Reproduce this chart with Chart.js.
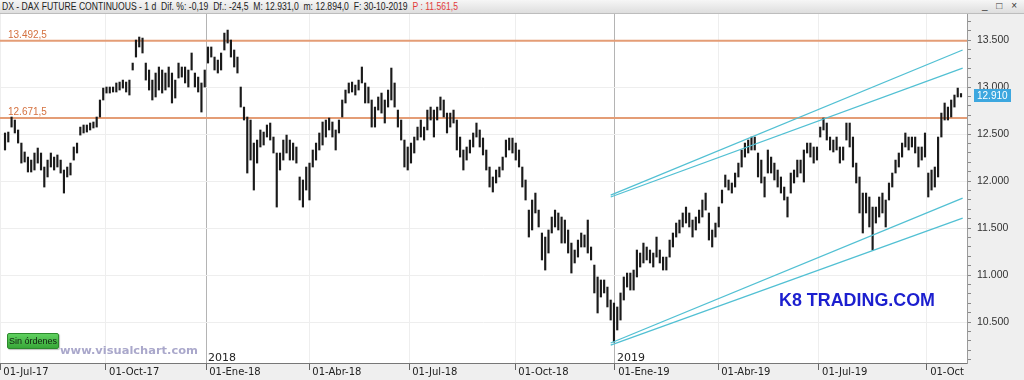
<!DOCTYPE html>
<html>
<head>
<meta charset="utf-8">
<script src="https://cdn.jsdelivr.net/npm/chart.js@4.4.0/dist/chart.umd.min.js"></script>
<style>
  html, body { margin: 0; padding: 0; background: #efefef; }
  #wrap { position: relative; width: 1024px; height: 380px; overflow: hidden; font-family: "Liberation Sans", Arial, sans-serif; }
  #chart { position: absolute; left: 0; top: 0; }
  #head { position: absolute; left: 0; top: 0; width: 1024px; height: 13px; background: linear-gradient(#f6f6f6, #dedede); border-bottom: 1px solid #bdbdbd; }
  #htxt { position: absolute; left: 2px; top: 1px; font-size: 10px; line-height: 11px; white-space: pre; color: #222; display: inline-block; transform-origin: left top; }
  #win { position: absolute; right: 4px; top: 0px; font-size: 10px; line-height: 12px; color: #333; letter-spacing: 3px; }
  .fit { display: inline-block; transform-origin: left top; white-space: pre; position: absolute; }
  #btn { position: absolute; left: 7px; top: 333px; width: 50px; height: 14px; background: linear-gradient(#5fd05f, #38a838); border: 1px solid #2c8a2c; border-radius: 2px; font-size: 9px; line-height: 14px; text-align: center; color: #102010; box-shadow: 1px 1px 1px rgba(0,0,0,0.25); }
  #wm { left: 60px; top: 344px; font-family: "DejaVu Sans", Verdana, sans-serif; font-weight: bold; font-size: 11px; color: #aaa8cb; }
  #k8 { left: 779px; top: 290px; font-family: "Liberation Sans", Arial, sans-serif; font-weight: bold; font-size: 18px; color: #1c1fcf; }
</style>
</head>
<body>
<div id="wrap">
  <canvas id="chart" width="1024" height="380"></canvas>
  <div id="head"><span id="htxt">DX - DAX FUTURE CONTINUOUS - 1 d  Dif. %: -0,19  Df.: -24,5  M: 12.931,0  m: 12.894,0  F: 30-10-2019  <span style="color:#e23b3b">P : 11.561,5</span></span><span id="win">_ □ ×</span></div>
  <div id="btn">Sin órdenes</div>
  <span id="wm" class="fit">www.visualchart.com</span>
  <span id="k8" class="fit">K8 TRADING.COM</span>
</div>
<script>
// daily bars sampled about every 2 sessions, Jul-2017 .. 30-Oct-2019
const highVals = [
  12511, 12521, 12681, 12649, 12543, 12404, 12309, 12255, 12223, 12298,
  12351, 12298, 12149, 12223, 12298, 12255, 12277, 12223, 12117, 12149,
  12191, 12362, 12404, 12574, 12596, 12596, 12617, 12628, 12681, 12862,
  12989, 13000, 13000, 13000, 13043, 13053, 13074, 13053, 13074, 13255,
  13500, 13532, 13521, 13255, 13181, 13074, 13149, 13213, 13181, 13149,
  13213, 13149, 13074, 13255, 13213, 13213, 13181, 13362, 13149, 13106,
  13043, 13181, 13426, 13426, 13319, 13287, 13362, 13574, 13606, 13500,
  13394, 13319, 13000, 12787, 12681, 12649, 12404, 12436, 12543, 12521,
  12596, 12617, 12468, 12298, 12298, 12436, 12489, 12436, 12404, 12362,
  12043, 12011, 12149, 12191, 12330, 12404, 12511, 12628, 12649, 12670,
  12628, 12543, 12649, 12862, 12968, 13043, 13053, 13021, 13074, 13213,
  13043, 13000, 12862, 12787, 12894, 12936, 12862, 12968, 13202, 13043,
  12755, 12649, 12436, 12362, 12404, 12468, 12574, 12649, 12574, 12755,
  12787, 12755, 12787, 12894, 12862, 12723, 12723, 12755, 12649, 12468,
  12330, 12362, 12436, 12511, 12617, 12543, 12458, 12330, 12149, 12043,
  12117, 12149, 12255, 12436, 12457, 12457, 12404, 12330, 12149, 12011,
  11691, 11798, 11872, 11691, 11447, 11404, 11479, 11617, 11691, 11660,
  11617, 11585, 11479, 11340, 11266, 11372, 11447, 11426, 11585, 11298,
  11106, 10979, 10947, 10947, 10872, 10734, 10702, 10660, 10809, 10979,
  11021, 11021, 11053, 11266, 11234, 11340, 11298, 11266, 11234, 11404,
  11266, 11191, 11191, 11372, 11447, 11553, 11585, 11660, 11723, 11660,
  11585, 11617, 11691, 11798, 11872, 11660, 11479, 11553, 11723, 11904,
  12064, 12011, 11979, 12085, 12191, 12330, 12404, 12436, 12468, 12468,
  12298, 12223, 12043, 12330, 12255, 12191, 12117, 12043, 11936, 11830,
  12085, 12117, 12223, 12223, 12330, 12404, 12404, 12362, 12362, 12574,
  12670, 12617, 12468, 12436, 12468, 12362, 12362, 12617, 12617, 12468,
  12191, 12043, 11872, 11872, 11830, 11723, 11723, 11830, 11872, 11798,
  11979, 12085, 12223, 12298, 12404, 12511, 12468, 12468, 12468, 12362,
  12362, 12511, 12085, 12117, 12149, 12468, 12723, 12830, 12787, 12862,
  12915, 12989, 12931
];
const lowVals = [
  12330, 12415, 12574, 12511, 12404, 12191, 12202, 12096, 12096, 12117,
  12191, 12117, 11936, 12043, 12149, 12117, 12149, 12085, 11872, 12043,
  12064, 12223, 12298, 12489, 12511, 12521, 12543, 12564, 12574, 12681,
  12862, 12936, 12936, 12947, 12947, 12968, 12989, 12947, 12915, 13181,
  13319, 13426, 13362, 13074, 12968, 12862, 12894, 12968, 12936, 12968,
  13000, 12830, 12883, 13096, 13106, 13043, 13000, 13181, 13000, 12947,
  12734, 13000, 13255, 13319, 13181, 13149, 13181, 13394, 13468, 13319,
  13213, 13149, 12787, 12649, 12085, 12223, 11904, 12191, 12362, 12383,
  12468, 12436, 12298, 11723, 12117, 12223, 12298, 12223, 12223, 12191,
  11798, 11723, 11904, 11798, 12149, 12223, 12330, 12383, 12468, 12543,
  12468, 12330, 12511, 12681, 12830, 12936, 12947, 12915, 12968, 13043,
  12830, 12830, 12574, 12574, 12755, 12723, 12617, 12787, 12862, 12787,
  12574, 12436, 12149, 12117, 12191, 12298, 12436, 12468, 12436, 12543,
  12649, 12468, 12649, 12755, 12681, 12511, 12574, 12617, 12330, 12255,
  12117, 12223, 12298, 12362, 12468, 12362, 12277, 12117, 11936, 11883,
  11979, 12043, 12117, 12255, 12330, 12298, 12223, 12149, 11936, 11798,
  11404, 11479, 11660, 11511, 11160, 11053, 11234, 11447, 11511, 11479,
  11340, 11340, 11234, 11021, 11128, 11191, 11298, 11298, 11234, 11160,
  10809, 10596, 10766, 10809, 10660, 10521, 10287, 10415, 10521, 10734,
  10872, 10840, 10840, 10979, 11085, 11128, 11160, 11128, 11085, 11191,
  11128, 11053, 11053, 11191, 11298, 11404, 11447, 11511, 11553, 11511,
  11404, 11479, 11553, 11617, 11691, 11372, 11298, 11404, 11511, 11766,
  11936, 11904, 11872, 11936, 12043, 12149, 12255, 12298, 12330, 12330,
  12043, 11979, 11830, 12085, 12085, 12011, 11936, 11872, 11798, 11617,
  11872, 11979, 12043, 12085, 11989, 12298, 12255, 12191, 12223, 12468,
  12543, 12436, 12330, 12309, 12330, 12191, 12223, 12436, 12362, 12149,
  11979, 11660, 11447, 11660, 11511, 11266, 11553, 11617, 11660, 11511,
  11798, 11936, 12085, 12149, 12255, 12362, 12330, 12362, 12298, 12149,
  12223, 12255, 11830, 11904, 11936, 12043, 12468, 12649, 12649, 12681,
  12787, 12894, 12894
];

// date ticks (position in bar index units)
const dateTicks = ['01-Jul-17', '01-Oct-17', '01-Ene-18', '01-Abr-18', '01-Jul-18', '01-Oct-18', '01-Ene-19', '01-Abr-19', '01-Jul-19', '01-Oct'];
const dateTickAt = [-1.5, 30.8, 61.4, 92.9, 123.4, 155.8, 186.3, 217.8, 248.6, 281.6];
const yearLabels = ['2018', '2019'];
const yearAt = [61.4, 186.3];

// horizontal levels
const levelVals = [13492.5, 12671.5];
const levelText = ['13.492,5', '12.671,5'];

// trend channel: drawn from the Dec-2018 low to the last session
const channelStartAt = 185;
const channelEndAt = 292.5;
const channelFrom = [11851, 11830, 10277, 10255];
const channelTo = [13394, 13202, 11819, 11606];

const lastPrice = 12910;
const xMin = -1.53, xMax = 293.83;
const yMin = 10064, yMax = 13777;

function fmtThousands(v) {
  const k = Math.floor(v / 1000);
  return k + '.' + String(Math.round(v - k * 1000)).padStart(3, '0');
}

const barData = lowVals.map((l, i) => ({ x: i, y: [l, highVals[i]] }));

const datasets = [{
  type: 'bar',
  data: barData,
  backgroundColor: '#1a1a1a',
  barThickness: 1.5,
  order: 1
}];

levelVals.forEach(v => {
  datasets.push({
    type: 'line',
    data: [{ x: xMin, y: v }, { x: xMax, y: v }],
    borderColor: '#e49d76',
    borderWidth: 2,
    pointRadius: 0,
    order: 2
  });
});

channelFrom.forEach((v, i) => {
  datasets.push({
    type: 'line',
    data: [{ x: channelStartAt, y: v }, { x: channelEndAt, y: channelTo[i] }],
    borderColor: '#52c0d3',
    borderWidth: 1.3,
    pointRadius: 0,
    order: 0
  });
});

const decor = {
  id: 'decor',
  beforeDraw(chart) {
    const { ctx, chartArea: a } = chart;
    ctx.save();
    ctx.fillStyle = '#efefef';
    ctx.fillRect(0, 0, chart.width, chart.height);
    ctx.fillStyle = '#ffffff';
    ctx.fillRect(a.left, a.top, a.right - a.left, a.bottom - a.top);
    ctx.restore();
  },
  afterDatasetsDraw(chart) {
    const { ctx, chartArea: a, scales } = chart;
    ctx.save();
    ctx.font = '10px "Liberation Sans", Arial, sans-serif';
    ctx.fillStyle = '#d4713f';
    ctx.textBaseline = 'alphabetic';
    levelVals.forEach((v, i) => {
      ctx.fillText(levelText[i], 8, scales.y.getPixelForValue(v) - 3);
    });
    ctx.fillStyle = '#222';
    ctx.font = '11px "DejaVu Sans", Verdana, sans-serif';
    yearAt.forEach((v, i) => {
      ctx.fillText(yearLabels[i], scales.x.getPixelForValue(v) + 2, a.bottom - 2);
    });
    // last price tag on the price axis
    const py = Math.round(scales.y.getPixelForValue(lastPrice));
    ctx.fillStyle = '#3da7df';
    ctx.fillRect(a.right + 7, py - 6, 37, 13);
    ctx.fillStyle = '#ffffff';
    ctx.font = '10px "Liberation Sans", Arial, sans-serif';
    ctx.textBaseline = 'middle';
    ctx.fillText(fmtThousands(lastPrice), a.right + 10, py + 1);
    ctx.restore();
  }
};

new Chart(document.getElementById('chart'), {
  data: { datasets: datasets },
  options: {
    responsive: false,
    animation: false,
    devicePixelRatio: 1,
    layout: { padding: { top: 14, left: 0, right: 0, bottom: 0 } },
    plugins: { legend: { display: false }, tooltip: { enabled: false } },
    scales: {
      x: {
        type: 'linear',
        position: 'bottom',
        min: xMin,
        max: xMax,
        offset: false,
        afterBuildTicks: s => { s.ticks = dateTickAt.map(v => ({ value: v })); },
        afterFit: s => { s.height = 17; },
        ticks: {
          autoSkip: false,
          maxRotation: 0,
          align: 'start',
          padding: -4,
          color: '#222',
          font: { family: '"DejaVu Sans", Verdana, sans-serif', size: 10 },
          callback: (v, i) => ' ' + dateTicks[i]
        },
        grid: {
          offset: false,
          drawOnChartArea: true,
          color: ctx => (ctx.tick && yearAt.includes(ctx.tick.value)) ? '#b4b4b4' : '#eeeeee',
          tickColor: '#666',
          tickLength: 7
        },
        border: { color: '#777' }
      },
      y: {
        position: 'right',
        min: yMin,
        max: yMax,
        afterFit: s => { s.width = 57; },
        ticks: {
          stepSize: 100,
          includeBounds: false,
          autoSkip: false,
          padding: 6,
          color: '#333',
          font: { family: '"Liberation Sans", Arial, sans-serif', size: 10.5 },
          callback: v => (v % 500 === 0 ? fmtThousands(v) : '')
        },
        grid: {
          drawOnChartArea: true,
          color: ctx => (ctx.tick && ctx.tick.value % 500 === 0) ? '#eeeeee' : 'rgba(0,0,0,0)',
          tickColor: '#8a8a8a',
          tickLength: 4
        },
        border: { color: '#9a9a9a' }
      }
    }
  },
  plugins: [decor]
});

function fitWidth(id, w) {
  const el = document.getElementById(id);
  const r = el.getBoundingClientRect().width;
  el.style.transform = 'scaleX(' + (w / r) + ')';
}
fitWidth('htxt', 456);
fitWidth('wm', 138);
fitWidth('k8', 156);
</script>
</body>
</html>
